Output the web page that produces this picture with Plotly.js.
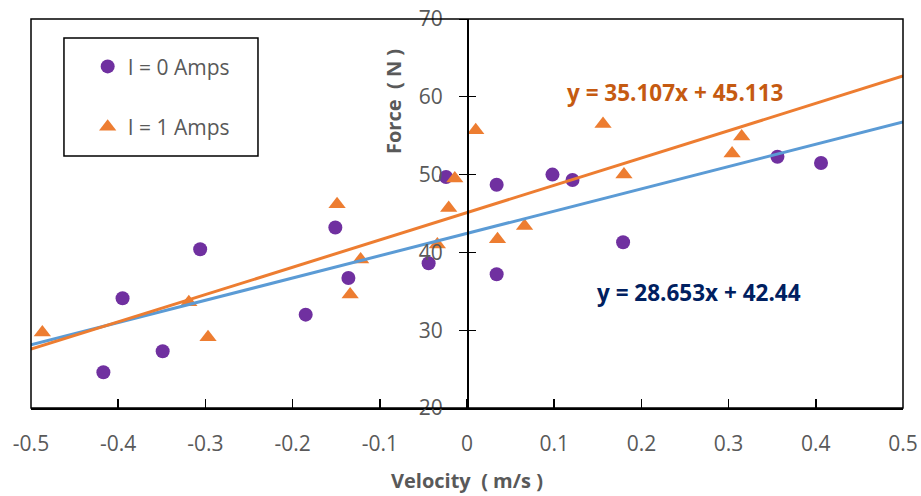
<!DOCTYPE html>
<html><head><meta charset="utf-8">
<script src="https://cdn.plot.ly/plotly-3.0.1.min.js"></script>
<style>html,body{margin:0;padding:0;background:#fff}#chart{width:921px;height:496px}</style>
</head><body><div id="chart"></div>
<script>
// I = 0 Amps
const vel0 = [-0.417,-0.395,-0.349,-0.306,-0.185,-0.151,-0.136,-0.044,-0.024,0.034,0.034,0.098,0.121,0.179,0.356,0.406];
const force0 = [24.6,34.1,27.3,40.4,32.0,43.2,36.7,38.6,49.7,48.7,37.2,50.0,49.3,41.3,52.3,51.5];
// I = 1 Amps
const vel1 = [-0.487,-0.319,-0.297,-0.149,-0.134,-0.122,-0.034,-0.021,-0.014,0.010,0.035,0.066,0.156,0.180,0.304,0.315];
const force1 = [29.7,33.6,29.1,46.2,34.6,39.1,41.0,45.7,49.5,55.7,41.7,43.4,56.5,50.0,52.7,54.9];
// trendlines (endpoints)
const trendX = [-0.5, 0.5];
const trend0 = [28.11, 56.77];
const trend1 = [27.56, 62.67];
const eq0 = "y = 28.653x + 42.44";
const eq1 = "y = 35.107x + 45.113";
const xTicks = [-0.5,-0.4,-0.3,-0.2,-0.1,0,0.1,0.2,0.3,0.4,0.5];
const yTicks = [20,30,40,50,60,70];

const FONT = "Open Sans, Noto Sans, sans-serif";
const GRAY = "#595959";

const traces = [
  {x: trendX, y: trend0, mode:'lines', line:{color:'#5B9BD5', width:3}, showlegend:false, hoverinfo:'skip', yaxis:'y2'},
  {x: trendX, y: trend1, mode:'lines', line:{color:'#ED7D31', width:3}, showlegend:false, hoverinfo:'skip', yaxis:'y2'},
  {x: vel0, y: force0, mode:'markers', name:'I = 0 Amps', legendgroup:'a',
   marker:{symbol:'circle', size:14, color:'#7030A0'}},
  {x: vel1, y: force1, mode:'markers', name:'I = 1 Amps', legendgroup:'b',
   marker:{symbol:'triangle-up', size:15, color:'#ED7D31'}}
];

const layout = {
  width:921, height:496,
  margin:{l:31, r:18, t:19, b:88},
  paper_bgcolor:'#fff', plot_bgcolor:'#fff',
  font:{family:FONT, color:GRAY, size:20},
  xaxis:{range:[-0.5,0.5], tickvals:xTicks, ticktext:xTicks.map(String),
    showgrid:false, zeroline:false, showline:true, linecolor:'#000', linewidth:2,
    ticks:'inside', ticklen:9, tickcolor:'#000', tickwidth:1.5,
    tickfont:{family:FONT, size:21, color:GRAY}, ticklabelstandoff:16},
  yaxis:{range:[20,70], tickvals:yTicks, ticktext:yTicks.map(String),
    anchor:'free', position:0.5, showgrid:false, zeroline:false,
    showline:true, linecolor:'#000', linewidth:1.5,
    ticks:'outside', ticklen:8, tickcolor:'#000', tickwidth:1,
    tickfont:{family:FONT, size:21, color:GRAY}, ticklabelstandoff:12},
  yaxis2:{range:[20,70], overlaying:'y', anchor:'free', position:0.5, side:'left',
    showgrid:false, zeroline:false, showline:false, showticklabels:false,
    tickvals:yTicks, ticks:'inside', ticklen:8, tickcolor:'#000', tickwidth:1},
  showlegend:true,
  legend:{x:0.065, y:0.93, xanchor:'left', yanchor:'top', bgcolor:'rgba(0,0,0,0)',
    borderwidth:0, tracegroupgap:30, traceorder:'grouped',
    font:{family:FONT, size:21, color:GRAY}},
  shapes:[
    {type:'rect', xref:'paper', yref:'paper', x0:0, x1:1, y0:0, y1:1, line:{color:'#000', width:1.5}},
    {type:'rect', xref:'paper', yref:'paper', x0:0.0378, x1:0.2603, y0:0.648, y1:0.951, line:{color:'#000', width:1.5}}
  ],
  annotations:[
    {text:eq1, x:0.2385, y:60.5, xref:'x', yref:'y', showarrow:false,
     font:{family:FONT, size:22.5, color:'#C55A11', weight:'bold'}},
    {text:eq0, x:0.266, y:34.9, xref:'x', yref:'y', showarrow:false,
     font:{family:FONT, size:22.5, color:'#002060', weight:'bold'}},
    {text:'Force\u00a0\u00a0( N )', textangle:-90, x:0, y:0, xref:'paper', yref:'paper', showarrow:false,
     xanchor:'center', yanchor:'middle',
     font:{family:FONT, size:20, color:GRAY, weight:'bold'}},
    {text:'Velocity\u00a0\u00a0( m/s )', x:0.5, y:(408-480)/389, xref:'paper', yref:'paper', showarrow:false,
     xanchor:'center', yanchor:'middle',
     font:{family:FONT, size:20, color:GRAY, weight:'bold'}}
  ]
};
// y-title position in paper coords
layout.annotations[2].x = (393-31)/872;
layout.annotations[2].y = (408-102)/389;
Plotly.newPlot('chart', traces, layout, {displayModeBar:false, staticPlot:true});
</script></body></html>
